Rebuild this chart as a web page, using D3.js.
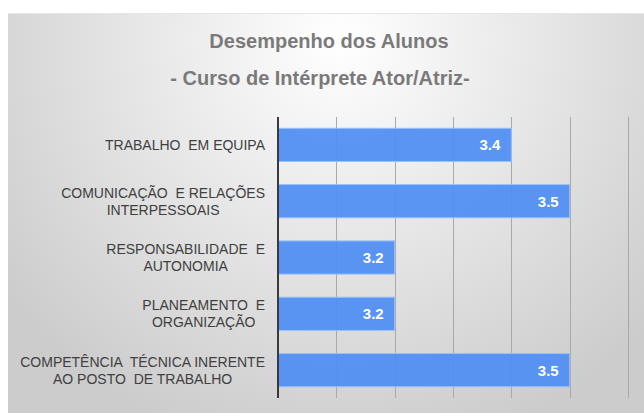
<!DOCTYPE html>
<html>
<head>
<meta charset="utf-8">
<script src="https://cdn.jsdelivr.net/npm/d3@7"></script>
<style>
  body { margin: 0; background: #fff; }
  svg { display: block; font-family: "Liberation Sans", Arial, sans-serif; }
</style>
</head>
<body>
<div id="chart"></div>
<script>
// categories (each label split into its lines) and scores
const categories = [
    ["TRABALHO  EM EQUIPA"],
    ["COMUNICAÇÃO  E RELAÇÕES", "INTERPESSOAIS"],
    ["RESPONSABILIDADE  E", "AUTONOMIA"],
    ["PLANEAMENTO  E", "ORGANIZAÇÃO"],
    ["COMPETÊNCIA  TÉCNICA INERENTE", "AO POSTO  DE TRABALHO"]
];
const scores = [3.4, 3.5, 3.2, 3.2, 3.5];
const gridTicks = [3.0, 3.1, 3.2, 3.3, 3.4, 3.5, 3.6];
const titleLines = ["Desempenho dos Alunos", "- Curso de Intérprete Ator/Atriz-"];

const W = 644, H = 413;
const svg = d3.select("#chart").append("svg")
    .attr("width", W)
    .attr("height", H);

// background panel with soft radial gradient
const defs = svg.append("defs");
const grad = defs.append("radialGradient")
    .attr("id", "bg")
    .attr("gradientUnits", "userSpaceOnUse")
    .attr("cx", 340).attr("cy", 40).attr("r", 420);
grad.append("stop").attr("offset", "0%").attr("stop-color", "#ffffff");
grad.append("stop").attr("offset", "100%").attr("stop-color", "#cccccc");

svg.append("rect")
    .attr("x", 8).attr("y", 13)
    .attr("width", W - 8).attr("height", H - 13)
    .attr("fill", "url(#bg)");
svg.append("line")
    .attr("x1", 8).attr("x2", W).attr("y1", 13.5).attr("y2", 13.5)
    .attr("stroke", "#e6e6e6");

// titles
svg.append("text")
    .attr("x", 329).attr("y", 48)
    .attr("text-anchor", "middle")
    .attr("font-weight", "bold")
    .attr("font-size", 20)
    .attr("fill", "#7a7a7a")
    .text(titleLines[0]);
svg.append("text")
    .attr("x", 320).attr("y", 85)
    .attr("text-anchor", "middle")
    .attr("font-weight", "bold")
    .attr("font-size", 20)
    .attr("fill", "#7a7a7a")
    .text(titleLines[1]);

const x = d3.scaleLinear().domain([3.0, 3.6]).range([278, 628]);
const y = d3.scaleBand()
    .domain(d3.range(categories.length))
    .range([117, 398])
    .paddingInner(0.41)
    .paddingOuter(0.2);

// vertical gridlines
svg.append("g")
    .selectAll("line")
    .data(gridTicks.slice(1))
    .join("line")
    .attr("x1", d => Math.round(x(d)) + 0.5)
    .attr("x2", d => Math.round(x(d)) + 0.5)
    .attr("y1", 117).attr("y2", 398)
    .attr("stroke", "#a9a9a9")
    .attr("stroke-width", 1);

// bars
svg.append("g")
    .selectAll("rect")
    .data(scores)
    .join("rect")
    .attr("x", x(3.0))
    .attr("y", (d, i) => y(i))
    .attr("width", d => x(d) - x(3.0))
    .attr("height", y.bandwidth())
    .attr("fill", "#4f8ef3")
    .attr("fill-opacity", 0.93)
    .attr("stroke", "#9cc0f7")
    .attr("stroke-width", 1);

// value labels
svg.append("g")
    .selectAll("text")
    .data(scores)
    .join("text")
    .attr("x", d => x(d) - 11)
    .attr("y", (d, i) => y(i) + y.bandwidth() / 2)
    .attr("dy", "0.36em")
    .attr("text-anchor", "end")
    .attr("font-weight", "bold")
    .attr("font-size", 15)
    .attr("fill", "#ffffff")
    .text(d => d.toFixed(1));

// category labels
const lab = svg.append("g")
    .selectAll("text")
    .data(categories)
    .join("text")
    .attr("text-anchor", "middle")
    .attr("font-size", 14)
    .attr("fill", "#404040")
    .style("white-space", "pre")
    .attr("transform", (d, i) => `translate(0,${y(i) + y.bandwidth() / 2})`);

lab.each(function(lines) {
    const t = d3.select(this);
    const lineH = 17;
    const off = -(lines.length - 1) * lineH / 2;
    lines.forEach((ln, k) => {
        t.append("tspan")
            .attr("y", off + k * lineH)
            .attr("dy", "0.36em")
            .text(ln);
    });
    // right align the block, centre the lines within it
    const widths = [];
    t.selectAll("tspan").each(function() { widths.push(this.getComputedTextLength()); });
    const maxW = d3.max(widths);
    t.selectAll("tspan").attr("x", 265 - maxW / 2);
});

// axis line
svg.append("line")
    .attr("x1", x(3.0)).attr("x2", x(3.0))
    .attr("y1", 117).attr("y2", 398)
    .attr("stroke", "#3a3a3a")
    .attr("stroke-width", 2);
</script>
</body>
</html>
